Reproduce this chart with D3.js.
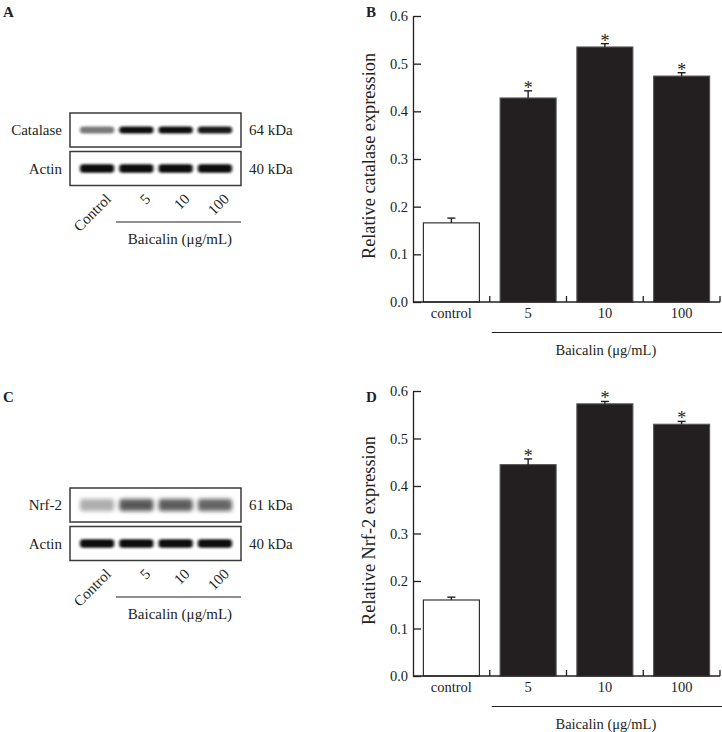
<!DOCTYPE html>
<html>
<head>
<meta charset="utf-8">
<script src="https://cdn.jsdelivr.net/npm/d3@7"></script>
<style>
  html, body { margin: 0; padding: 0; background: #fff; }
  svg { display: block; }
  text { font-family: "Liberation Serif", "Times New Roman", serif; fill: #231f20; }
</style>
</head>
<body>
<svg id="chart" width="722" height="732"></svg>
<script>
// ---------------- data ----------------
const categories = ["control", "5", "10", "100"];
const laneLabels = ["Control", "5", "10", "100"];
const catalaseMean = [0.166, 0.428, 0.535, 0.474];
const catalaseErr  = [0.010, 0.015, 0.007, 0.007];
const nrf2Mean     = [0.160, 0.445, 0.573, 0.530];
const nrf2Err      = [0.006, 0.012, 0.005, 0.006];
const significant  = [false, true, true, true];
const yTicks = [0, 0.1, 0.2, 0.3, 0.4, 0.5, 0.6];
const treatmentLabel = "Baicalin (\u03bcg/mL)";
// relative band intensities read from blots (0..1)
const catalaseBand = [0.55, 1.0, 1.0, 0.95];
const actinBandA   = [1.0, 1.0, 1.0, 1.0];
const nrf2Band     = [0.38, 0.78, 0.76, 0.72];
const actinBandC   = [1.0, 1.0, 1.0, 1.0];

const ink = "#231f20";
const svg = d3.select("#chart");

// blur filters for blot bands
const defs = svg.append("defs");
defs.append("filter").attr("id", "blurS").attr("x", "-20%").attr("y", "-60%").attr("width", "140%").attr("height", "220%")
  .append("feGaussianBlur").attr("stdDeviation", "1.6 1.3");
defs.append("filter").attr("id", "blurL").attr("x", "-20%").attr("y", "-60%").attr("width", "140%").attr("height", "220%")
  .append("feGaussianBlur").attr("stdDeviation", "2.2 2.0");

// ---------------- panel letters ----------------
const letters = [["A", 3, 17], ["B", 366, 17], ["C", 3, 402], ["D", 366, 402]];
svg.selectAll("text.panel").data(letters).join("text")
  .attr("class", "panel")
  .attr("x", d => d[1])
  .attr("y", d => d[2])
  .attr("font-size", 15).attr("font-weight", "bold")
  .text(d => d[0]);

// ---------------- western blot panels ----------------
function drawBlot(oy, target, targetKda, targetBand, actinBand, targetH, targetFilter, targetColor) {
  const g = svg.append("g").attr("transform", `translate(0,${oy})`);
  const lane = d3.scaleBand().domain(laneLabels).range([79, 233]).paddingInner(0.08).paddingOuter(0);
  const rows = [
    {name: target, kda: targetKda, y0: 0, band: targetBand, h: targetH, filter: targetFilter, color: targetColor},
    {name: "Actin", kda: "40 kDa", y0: 38.5, band: actinBand, h: 8.5, filter: "blurS", color: "#111"}
  ];
  rows.forEach(r => {
    g.append("rect").attr("x", 70).attr("y", r.y0).attr("width", 171).attr("height", 34)
      .attr("fill", "#fff").attr("stroke", "#3a3a3a").attr("stroke-width", 1.5);
    g.append("g").selectAll("rect").data(r.band).join("rect")
      .attr("x", (d, i) => lane(laneLabels[i]) + 1)
      .attr("width", lane.bandwidth() - 2)
      .attr("y", r.y0 + 17 - r.h / 2)
      .attr("height", r.h)
      .attr("rx", 3)
      .attr("fill", r.color)
      .attr("opacity", d => d)
      .attr("filter", `url(#${r.filter})`);
    g.append("text").attr("x", 62).attr("y", r.y0 + 17).attr("dy", "0.35em")
      .attr("text-anchor", "end").attr("font-size", 15).text(r.name);
    g.append("text").attr("x", 249).attr("y", r.y0 + 17).attr("dy", "0.35em")
      .attr("font-size", 15).text(r.kda);
  });
  // rotated lane labels
  g.append("g").selectAll("text").data(laneLabels).join("text")
    .attr("text-anchor", "end")
    .attr("font-size", 15)
    .attr("transform", d => `translate(${lane(d) + lane.bandwidth() / 2 + 15},${87}) rotate(-45)`)
    .text(d => d);
  // treatment underline and label
  g.append("line").attr("x1", 116).attr("x2", 241).attr("y1", 109).attr("y2", 109)
    .attr("stroke", ink).attr("stroke-width", 1.2);
  g.append("text").attr("x", 180).attr("y", 131).attr("text-anchor", "middle")
    .attr("font-size", 15).text(treatmentLabel);
}

drawBlot(113, "Catalase", "64 kDa", catalaseBand, actinBandA, 7, "blurS", "#111");
drawBlot(488, "Nrf-2", "61 kDa", nrf2Band, actinBandC, 12, "blurL", "#2a2a2a");

// ---------------- bar charts ----------------
function drawBars(top, bottom, means, errs, title) {
  const g = svg.append("g");
  const x = d3.scaleBand().domain(categories).range([413, 720]).paddingInner(0.27).paddingOuter(0.135);
  const y = d3.scaleLinear().domain([0, 0.6]).range([bottom, top]);
  const step = x.step();
  const rows = means.map((m, i) => ({cat: categories[i], m: m, e: errs[i], sig: significant[i], i: i}));

  // bars
  g.append("g").selectAll("rect").data(rows).join("rect")
    .attr("x", d => x(d.cat))
    .attr("width", x.bandwidth())
    .attr("y", d => y(d.m))
    .attr("height", d => y(0) - y(d.m))
    .attr("fill", d => d.i === 0 ? "#fff" : ink)
    .attr("stroke", d => d.i === 0 ? ink : "#555")
    .attr("stroke-width", 1.1);

  // error bars (upper only)
  const eg = g.append("g").attr("stroke", ink).attr("stroke-width", 1.4);
  rows.forEach(d => {
    const cx = x(d.cat) + x.bandwidth() / 2;
    eg.append("line").attr("x1", cx).attr("x2", cx).attr("y1", y(d.m)).attr("y2", y(d.m + d.e));
    eg.append("line").attr("x1", cx - 4).attr("x2", cx + 4).attr("y1", y(d.m + d.e)).attr("y2", y(d.m + d.e));
  });

  // significance marks
  g.append("g").selectAll("text").data(rows.filter(d => d.sig)).join("text")
    .attr("x", d => x(d.cat) + x.bandwidth() / 2)
    .attr("y", d => y(d.m + d.e) + 3)
    .attr("text-anchor", "middle").attr("font-size", 18).attr("fill", "#444")
    .text("*");

  // y axis
  const ya = g.append("g").attr("transform", "translate(413,0)")
    .call(d3.axisLeft(y).tickValues(yTicks).tickFormat(d3.format(".1f"))
      .tickSizeInner(-8).tickSizeOuter(0).tickPadding(5));
  ya.select(".domain").attr("stroke", ink).attr("stroke-width", 1.3);
  ya.selectAll(".tick line").attr("stroke", ink).attr("stroke-width", 1.3);
  ya.selectAll(".tick text").attr("font-family", "Liberation Serif").attr("font-size", 14.5).attr("fill", ink);

  // x axis line
  g.append("line").attr("x1", 413).attr("x2", 720).attr("y1", y(0)).attr("y2", y(0))
    .attr("stroke", ink).attr("stroke-width", 1.3);
  // boundary ticks (inward)
  g.append("g").selectAll("line").data(categories).join("line")
    .attr("x1", d => x(d) + x.bandwidth() + step * 0.135)
    .attr("x2", d => x(d) + x.bandwidth() + step * 0.135)
    .attr("y1", y(0)).attr("y2", y(0) - 6)
    .attr("stroke", ink).attr("stroke-width", 1.3);
  // category labels
  g.append("g").selectAll("text").data(categories).join("text")
    .attr("x", d => x(d) + x.bandwidth() / 2)
    .attr("y", y(0) + 15.5)
    .attr("text-anchor", "middle").attr("font-size", 14.5)
    .text(d => d);
  // treatment underline + label
  const x0 = x(categories[1]) - step * 0.135;
  g.append("line").attr("x1", x0 + 2).attr("x2", 722).attr("y1", y(0) + 30.5).attr("y2", y(0) + 30.5)
    .attr("stroke", ink).attr("stroke-width", 1.2);
  g.append("text").attr("x", (x0 + 722) / 2).attr("y", y(0) + 53)
    .attr("text-anchor", "middle").attr("font-size", 14.5).text(treatmentLabel);
  // y title
  g.append("text")
    .attr("transform", `translate(375,${(top + bottom) / 2 - 3}) rotate(-90)`)
    .attr("text-anchor", "middle").attr("font-size", 18.3)
    .text(title);
}

drawBars(16, 302, catalaseMean, catalaseErr, "Relative catalase expression");
drawBars(391, 676, nrf2Mean, nrf2Err, "Relative Nrf-2 expression");
</script>
</body>
</html>
